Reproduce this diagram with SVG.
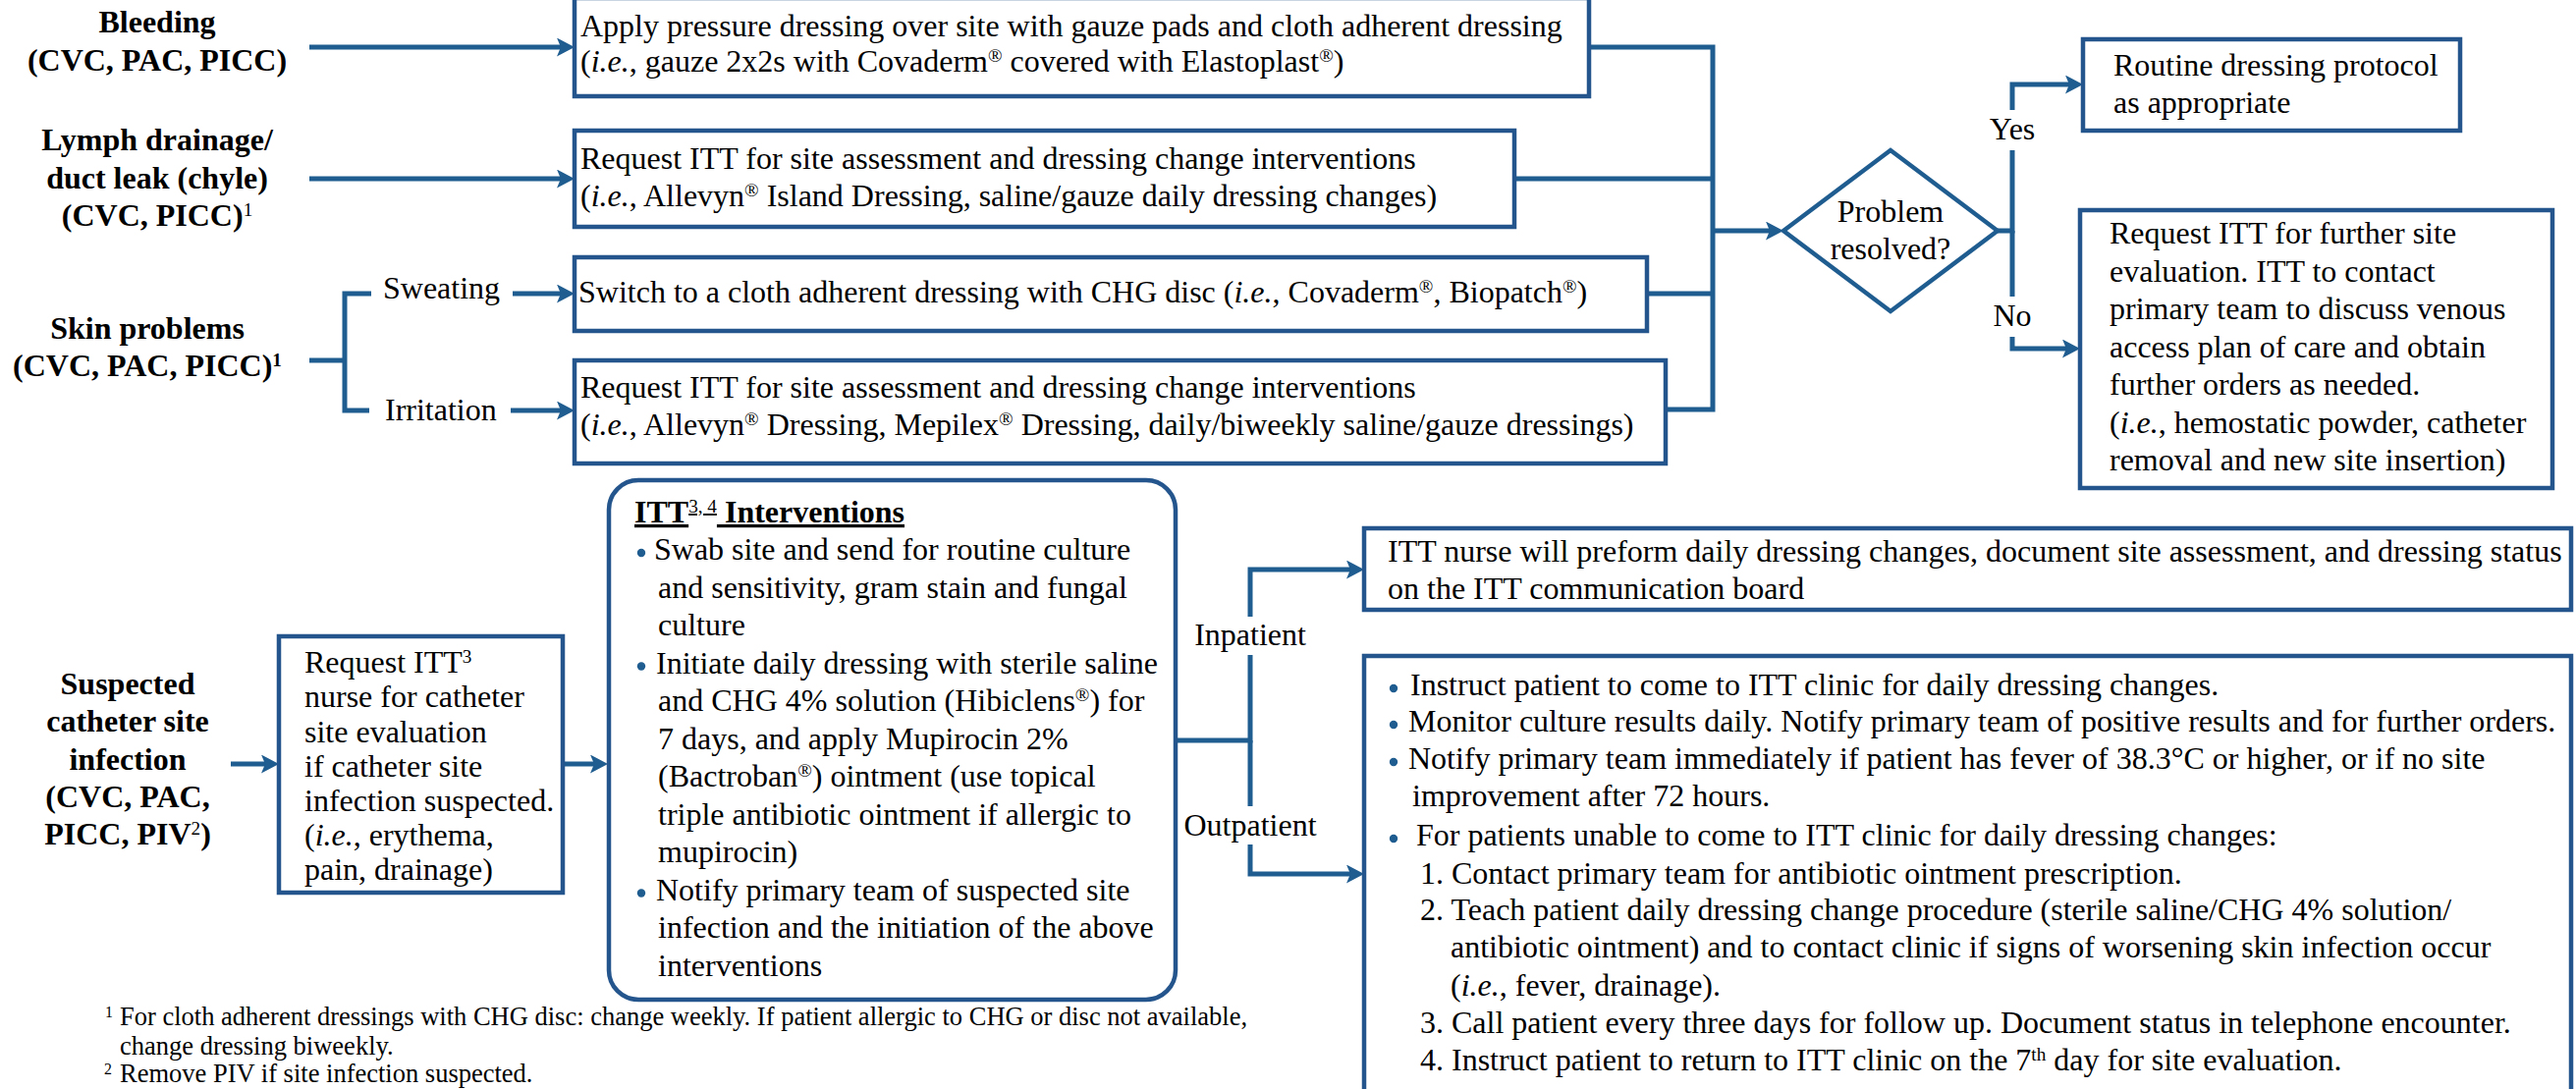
<svg xmlns="http://www.w3.org/2000/svg" width="2623" height="1109" viewBox="0 0 2623 1109">
  <style>
    .box { fill: #ffffff; stroke: #24558C; stroke-width: 4.5; }
    .ln { fill: none; stroke: #1F5C8F; stroke-width: 5; }
    .arr { marker-end: url(#ah); }
    .t { font-family: "Liberation Serif", "Times New Roman", serif; font-size: 32px; fill: #000000; }
    .c { text-anchor: middle; }
    .b { font-weight: bold; }
    .i { font-style: italic; }
    .fn { font-size: 26.5px; }
    .dot { fill: #1F5C8F; }
  </style>
  <defs>
    <marker id="ah" markerUnits="userSpaceOnUse" markerWidth="18" markerHeight="19" viewBox="0 0 18 19" refX="4" refY="9.5" orient="auto">
      <path d="M0,0 L18,9.5 L0,19 L4,9.5 Z" fill="#1F5C8F"/>
    </marker>
  </defs>
  <rect width="2623" height="1109" fill="#ffffff"/>

  <!-- connectors -->
  <g id="connectors">
    <path class="ln arr" d="M315,48 H571"/>
    <path class="ln arr" d="M315,182 H571"/>
    <path class="ln" d="M315,367 H351 M378,299 H351 V418 H376"/>
    <path class="ln arr" d="M522,299 H571"/>
    <path class="ln arr" d="M520,418 H571"/>
    <path class="ln" d="M1618,48 H1744 V417 H1696 M1542,182 H1744 M1677,299 H1744"/>
    <path class="ln arr" d="M1744,235 H1802"/>
    <path class="ln arr" d="M2034,235 H2049 V153 M2049,112 V86 H2107"/>
    <path class="ln arr" d="M2049,235 V302 M2049,343 V355 H2104"/>
    <path class="ln arr" d="M235,778 H270"/>
    <path class="ln arr" d="M573,778 H605"/>
    <path class="ln arr" d="M1197,754 H1273 V667 M1273,628 V580 H1375"/>
    <path class="ln arr" d="M1273,754 V821 M1273,860 V890 H1375"/>
  </g>

  <!-- branch labels -->
  <g id="labels">
    <text class="t" x="390" y="304">Sweating</text>
    <text class="t" x="392" y="428">Irritation</text>
    <text class="t c" x="2049" y="142">Yes</text>
    <text class="t c" x="2049" y="332">No</text>
    <text class="t c" x="1273" y="657">Inpatient</text>
    <text class="t c" x="1273" y="851">Outpatient</text>
  </g>

  <!-- problem categories -->
  <g id="cat-bleeding">
    <text class="t b c" x="160" y="33">Bleeding</text>
    <text class="t b c" x="160" y="72">(CVC, PAC, PICC)</text>
  </g>
  <g id="cat-lymph">
    <text class="t b c" x="160" y="153">Lymph drainage/</text>
    <text class="t b c" x="160" y="192">duct leak (chyle)</text>
    <text class="t b c" x="160" y="230">(CVC, PICC)<tspan font-weight="normal" font-size="60%" baseline-shift="super">1</tspan></text>
  </g>
  <g id="cat-skin">
    <text class="t b c" x="150" y="345">Skin problems</text>
    <text class="t b c" x="150" y="383">(CVC, PAC, PICC)<tspan font-size="60%" baseline-shift="super">1</tspan></text>
  </g>
  <g id="cat-infection">
    <text class="t b c" x="130" y="707">Suspected</text>
    <text class="t b c" x="130" y="745">catheter site</text>
    <text class="t b c" x="130" y="784">infection</text>
    <text class="t b c" x="130" y="822">(CVC, PAC,</text>
    <text class="t b c" x="130" y="860">PICC, PIV<tspan font-weight="normal" font-size="60%" baseline-shift="super">2</tspan>)</text>
  </g>

  <!-- dressing actions -->
  <g id="act-pressure">
    <rect class="box" x="585" y="-2" width="1033" height="100"/>
    <text class="t" x="591" y="37">Apply pressure dressing over site with gauze pads and cloth adherent dressing</text>
    <text class="t" x="591" y="73">(<tspan class="i">i.e.</tspan>, gauze 2x2s with Covaderm<tspan font-size="60%" baseline-shift="super">®</tspan> covered with Elastoplast<tspan font-size="60%" baseline-shift="super">®</tspan>)</text>
  </g>
  <g id="act-lymph">
    <rect class="box" x="585" y="133" width="957" height="98"/>
    <text class="t" x="591" y="172">Request ITT for site assessment and dressing change interventions</text>
    <text class="t" x="591" y="210">(<tspan class="i">i.e.</tspan>, Allevyn<tspan font-size="60%" baseline-shift="super">®</tspan> Island Dressing, saline/gauze daily dressing changes)</text>
  </g>
  <g id="act-sweating">
    <rect class="box" x="585" y="262" width="1092" height="75"/>
    <text class="t" x="589" y="308">Switch to a cloth adherent dressing with CHG disc (<tspan class="i">i.e.</tspan>, Covaderm<tspan font-size="60%" baseline-shift="super">®</tspan>, Biopatch<tspan font-size="60%" baseline-shift="super">®</tspan>)</text>
  </g>
  <g id="act-irritation">
    <rect class="box" x="585" y="367" width="1111" height="105"/>
    <text class="t" x="591" y="405">Request ITT for site assessment and dressing change interventions</text>
    <text class="t" x="591" y="443">(<tspan class="i">i.e.</tspan>, Allevyn<tspan font-size="60%" baseline-shift="super">®</tspan> Dressing, Mepilex<tspan font-size="60%" baseline-shift="super">®</tspan> Dressing, daily/biweekly saline/gauze dressings)</text>
  </g>

  <!-- decision -->
  <g id="decision">
    <polygon points="1816,235 1925,153 2034,235 1925,317" fill="#ffffff" stroke="#1F5C8F" stroke-width="4.5"/>
    <text class="t c" x="1925" y="226">Problem</text>
    <text class="t c" x="1925" y="264">resolved?</text>
  </g>
  <g id="res-yes">
    <rect class="box" x="2121" y="40" width="384" height="93"/>
    <text class="t" x="2152" y="77">Routine dressing protocol</text>
    <text class="t" x="2152" y="115">as appropriate</text>
  </g>
  <g id="res-no">
    <rect class="box" x="2118" y="214" width="481" height="283"/>
    <text class="t" x="2148" y="248">Request ITT for further site</text>
    <text class="t" x="2148" y="286.5">evaluation. ITT to contact</text>
    <text class="t" x="2148" y="325">primary team to discuss venous</text>
    <text class="t" x="2148" y="363.5">access plan of care and obtain</text>
    <text class="t" x="2148" y="402">further orders as needed.</text>
    <text class="t" x="2148" y="440.5">(<tspan class="i">i.e.</tspan>, hemostatic powder, catheter</text>
    <text class="t" x="2148" y="479">removal and new site insertion)</text>
  </g>

  <!-- infection pathway -->
  <g id="req-itt">
    <rect class="box" x="284" y="648" width="289" height="261"/>
    <text class="t" x="310" y="685">Request ITT<tspan font-size="60%" baseline-shift="super">3</tspan></text>
    <text class="t" x="310" y="720">nurse for catheter</text>
    <text class="t" x="310" y="756">site evaluation</text>
    <text class="t" x="310" y="791">if catheter site</text>
    <text class="t" x="310" y="826">infection suspected.</text>
    <text class="t" x="310" y="861">(<tspan class="i">i.e.</tspan>, erythema,</text>
    <text class="t" x="310" y="896">pain, drainage)</text>
  </g>
  <g id="itt-interventions">
    <rect class="box" x="620" y="489" width="577" height="529" rx="30" ry="30"/>
    <text class="t b" x="646" y="532" text-decoration="underline">ITT<tspan font-weight="normal" font-size="60%" baseline-shift="super">3, 4</tspan> Interventions</text>
    <circle class="dot" cx="653" cy="563" r="4.2"/>
    <circle class="dot" cx="653" cy="678.5" r="4.2"/>
    <circle class="dot" cx="653" cy="909.5" r="4.2"/>
    <text class="t" x="666" y="570">Swab site and send for routine culture</text>
    <text class="t" x="670" y="608.5">and sensitivity, gram stain and fungal</text>
    <text class="t" x="670" y="647">culture</text>
    <text class="t" x="668" y="685.5">Initiate daily dressing with sterile saline</text>
    <text class="t" x="670" y="724">and CHG 4% solution (Hibiclens<tspan font-size="60%" baseline-shift="super">®</tspan>) for</text>
    <text class="t" x="670" y="762.5">7 days, and apply Mupirocin 2%</text>
    <text class="t" x="670" y="801">(Bactroban<tspan font-size="60%" baseline-shift="super">®</tspan>) ointment (use topical</text>
    <text class="t" x="670" y="839.5">triple antibiotic ointment if allergic to</text>
    <text class="t" x="670" y="878">mupirocin)</text>
    <text class="t" x="668" y="916.5">Notify primary team of suspected site</text>
    <text class="t" x="670" y="955">infection and the initiation of the above</text>
    <text class="t" x="670" y="993.5">interventions</text>
  </g>
  <g id="inpatient">
    <rect class="box" x="1389" y="538" width="1229" height="83"/>
    <text class="t" x="1413" y="572">ITT nurse will preform daily dressing changes, document site assessment, and dressing status</text>
    <text class="t" x="1413" y="610">on the ITT communication board</text>
  </g>
  <g id="outpatient">
    <rect class="box" x="1389" y="668" width="1229" height="460"/>
    <circle class="dot" cx="1419" cy="701" r="4.2"/>
    <circle class="dot" cx="1419" cy="738" r="4.2"/>
    <circle class="dot" cx="1419" cy="776" r="4.2"/>
    <circle class="dot" cx="1419" cy="854" r="4.2"/>
    <text class="t" x="1436" y="708">Instruct patient to come to ITT clinic for daily dressing changes.</text>
    <text class="t" x="1434" y="745">Monitor culture results daily. Notify primary team of positive results and for further orders.</text>
    <text class="t" x="1434" y="783">Notify primary team immediately if patient has fever of 38.3°C or higher, or if no site</text>
    <text class="t" x="1438" y="821">improvement after 72 hours.</text>
    <text class="t" x="1442" y="861">For patients unable to come to ITT clinic for daily dressing changes:</text>
    <text class="t" x="1446" y="900">1. Contact primary team for antibiotic ointment prescription.</text>
    <text class="t" x="1446" y="937">2. Teach patient daily dressing change procedure (sterile saline/CHG 4% solution/</text>
    <text class="t" x="1477" y="975">antibiotic ointment) and to contact clinic if signs of worsening skin infection occur</text>
    <text class="t" x="1477" y="1014">(<tspan class="i">i.e.</tspan>, fever, drainage).</text>
    <text class="t" x="1446" y="1052">3. Call patient every three days for follow up. Document status in telephone encounter.</text>
    <text class="t" x="1446" y="1090">4. Instruct patient to return to ITT clinic on the 7<tspan font-size="60%" baseline-shift="super">th</tspan> day for site evaluation.</text>
  </g>

  <!-- footnotes -->
  <g id="footnotes">
    <text class="t fn" x="107" y="1044"><tspan font-size="60%" baseline-shift="super">1</tspan></text>
    <text class="t fn" x="122" y="1044">For cloth adherent dressings with CHG disc: change weekly. If patient allergic to CHG or disc not available,</text>
    <text class="t fn" x="122" y="1074">change dressing biweekly.</text>
    <text class="t fn" x="106" y="1102"><tspan font-size="60%" baseline-shift="super">2</tspan></text>
    <text class="t fn" x="122" y="1102">Remove PIV if site infection suspected.</text>
  </g>
</svg>
